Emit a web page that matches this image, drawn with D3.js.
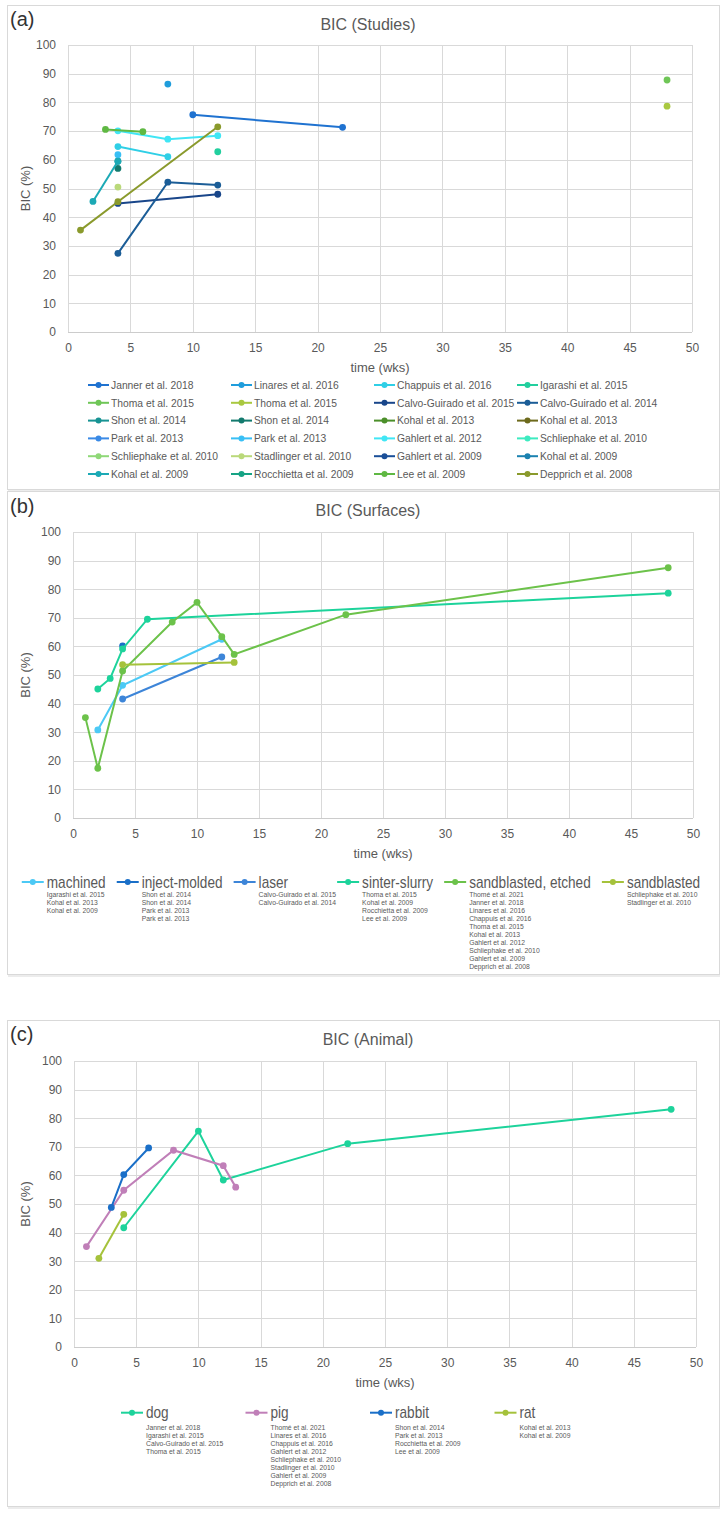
<!DOCTYPE html>
<html><head><meta charset="utf-8">
<script src="https://cdn.jsdelivr.net/npm/d3@7"></script>
<style>
body{margin:0;background:#fff;}
svg{display:block;font-family:"Liberation Sans",Arial,Helvetica,sans-serif;}
</style>
</head><body>
<svg id="chart" width="723" height="1514"></svg>
<script>
// ---------- shared axes ----------
const xTickValues = [0,5,10,15,20,25,30,35,40,45,50];
const yTickValues = [0,10,20,30,40,50,60,70,80,90,100];

// ---------- (a) studies ----------
const studyNames = ["Janner et al. 2018","Linares et al. 2016","Chappuis et al. 2016","Igarashi et al. 2015",
  "Thoma et al. 2015","Thoma et al. 2015","Calvo-Guirado et al. 2015","Calvo-Guirado et al. 2014",
  "Shon et al. 2014","Shon et al. 2014","Kohal et al. 2013","Kohal et al. 2013",
  "Park et al. 2013","Park et al. 2013","Gahlert et al. 2012","Schliephake et al. 2010",
  "Schliephake et al. 2010","Stadlinger et al. 2010","Gahlert et al. 2009","Kohal et al. 2009",
  "Kohal et al. 2009","Rocchietta et al. 2009","Lee et al. 2009","Depprich et al. 2008"];
const studyColors = ["#1f72d0","#1f9ddc","#2fcfe6","#22cf9e","#6fc657","#a9c840","#19468a","#1b5d97",
  "#179393","#137a6e","#4b8f2a","#6d6a1c","#3a8ae6","#38bff5","#40e6f5","#3debc0",
  "#8fd878","#bad97a","#1a4f98","#1b82b0","#1ba9b5","#16a384","#5fb843","#8a9a2c"];
const studyWeeks = [[10,22],[8],[4,8],[12],[48],[48],[4,12],[4,8,12],
  [4],[4],[],[],[],[4],[4,8,12],[],[],[4],[],[],[2,4],[],[3,6],[1,4,12]];
const studyBIC = [[75.7,71.3],[86.4],[64.6,61.1],[62.8],[87.8],[78.7],[44.8,48.0],[27.4,52.2,51.2],
  [59.5],[57.0],[],[],[],[61.8],[70.1,67.2,68.4],[],[],[50.5],[],[],[45.5,59.5],[],[70.6,69.8],[35.5,45.4,71.5]];

// ---------- (b) surfaces ----------
const surfaceNames = ["machined","inject-molded","laser","sinter-slurry","sandblasted, etched","sandblasted"];
const surfaceColors = ["#4cc9f5","#1a6fc8","#3d85d8","#1dd39b","#6cc24a","#a5c23b"];
const surfaceWeeks = [[2,4,12],[4],[4,12],[2,3,4,6,48],[1,2,4,8,10,12,13,22,48],[4,13]];
const surfaceBIC = [[30.8,46.4,62.5],[60.2],[41.6,56.3],[45.1,48.8,59.1,69.5,78.6],
  [35.1,17.4,51.4,68.5,75.4,63.4,57.2,71.1,87.5],[53.6,54.4]];
const surfaceStudies = [
  ["Igarashi et al. 2015","Kohal et al. 2013","Kohal et al. 2009"],
  ["Shon et al. 2014","Shon et al. 2014","Park et al. 2013","Park et al. 2013"],
  ["Calvo-Guirado et al. 2015","Calvo-Guirado et al. 2014"],
  ["Thoma et al. 2015","Kohal et al. 2009","Rocchietta et al. 2009","Lee et al. 2009"],
  ["Thomé et al. 2021","Janner et al. 2018","Linares et al. 2016","Chappuis et al. 2016","Thoma et al. 2015",
   "Kohal et al. 2013","Gahlert et al. 2012","Schliephake et al. 2010","Gahlert et al. 2009","Depprich et al. 2008"],
  ["Schliephake et al. 2010","Stadlinger et al. 2010"]];

// ---------- (c) animals ----------
const animalNames = ["dog","pig","rabbit","rat"];
const animalColors = ["#1dd39b","#c07fb8","#1a6fc8","#a5c23b"];
const animalWeeks = [[4,10,12,22,48],[1,4,8,12,13],[3,4,6],[2,4]];
const animalBIC = [[41.7,75.5,58.4,71.1,83.1],[35.1,54.8,68.8,63.4,55.9],[48.8,60.3,69.6],[31.0,46.4]];
const animalStudies = [
  ["Janner et al. 2018","Igarashi et al. 2015","Calvo-Guirado et al. 2015","Thoma et al. 2015"],
  ["Thomé et al. 2021","Linares et al. 2016","Chappuis et al. 2016","Gahlert et al. 2012",
   "Schliephake et al. 2010","Stadlinger et al. 2010","Gahlert et al. 2009","Depprich et al. 2008"],
  ["Shon et al. 2014","Park et al. 2013","Rocchietta et al. 2009","Lee et al. 2009"],
  ["Kohal et al. 2013","Kohal et al. 2009"]];

// ---------- drawing ----------
const svg = d3.select("#chart");
const TXT = "#595959", GRID = "#d9d9d9";
const COND = 0.85;

function toSeries(names, colors, weeks, vals){
  return names.map((n,i)=>({name:n,color:colors[i],pts:weeks[i].map((w,j)=>[w,vals[i][j]])}));
}

function drawPanel(p, series){
  const g = svg.append("g");
  g.append("rect").attr("x",p.fx+0.5).attr("y",p.fy+0.5).attr("width",p.fw).attr("height",p.fh)
    .attr("fill","#fff").attr("stroke","#d9d9d9");
  g.append("line").attr("x1",p.fx+1).attr("x2",p.fx+p.fw+1).attr("y1",p.fy+p.fh+2).attr("y2",p.fy+p.fh+2)
    .attr("stroke","#ececec").attr("stroke-width",2);
  g.append("text").attr("x",p.fx+3).attr("y",p.labY).attr("font-size",20).attr("fill","#333").text(p.label);
  g.append("text").attr("x",368).attr("y",p.titleY).attr("text-anchor","middle").attr("font-size",16)
    .attr("fill",TXT).text(p.title);

  const x = d3.scaleLinear().domain([0,50]).range([p.x0,p.x1]);
  const y = d3.scaleLinear().domain([0,100]).range([p.y0,p.y1]);

  g.append("g").selectAll("line").data(xTickValues).join("line")
    .attr("x1",d=>Math.round(x(d))+0.5).attr("x2",d=>Math.round(x(d))+0.5)
    .attr("y1",y(100)).attr("y2",y(0)).attr("stroke",GRID);
  g.append("g").selectAll("line").data(yTickValues).join("line")
    .attr("y1",d=>Math.round(y(d))+0.5).attr("y2",d=>Math.round(y(d))+0.5)
    .attr("x1",x(0)).attr("x2",x(50)).attr("stroke",d=>d===0?"#cccccc":GRID);

  const ax = g.append("g").attr("transform",`translate(0,${y(0)})`)
    .call(d3.axisBottom(x).tickValues(xTickValues).tickSize(0).tickPadding(11));
  const ay = g.append("g").attr("transform",`translate(${x(0)},0)`)
    .call(d3.axisLeft(y).tickValues(yTickValues).tickSize(0).tickPadding(12));
  [ax,ay].forEach(a=>{a.select(".domain").remove();
    a.selectAll("text").attr("font-size",12).attr("fill",TXT).attr("font-family",null);});

  g.append("text").attr("x",(p.x0+p.x1)/2).attr("y",p.y0+40).attr("text-anchor","middle")
    .attr("font-size",13).attr("fill",TXT).text("time (wks)");
  g.append("text").attr("transform",`translate(30,${(p.y0+p.y1)/2}) rotate(-90)`)
    .attr("text-anchor","middle").attr("font-size",13).attr("fill",TXT).text("BIC (%)");

  const line = d3.line().x(d=>x(d[0])).y(d=>y(d[1]));
  const sg = g.append("g").selectAll("g").data(series).join("g");
  sg.append("path").attr("d",d=>d.pts.length>1?line(d.pts):null).attr("fill","none")
    .attr("stroke",d=>d.color).attr("stroke-width",2);
  sg.selectAll("circle").data(d=>d.pts.map(q=>({q,c:d.color}))).join("circle")
    .attr("cx",d=>x(d.q[0])).attr("cy",d=>y(d.q[1])).attr("r",3.4).attr("fill",d=>d.c);
  return g;
}

function legendMarker(g, x1, x2, cy, color){
  g.append("line").attr("x1",x1).attr("x2",x2).attr("y1",cy).attr("y2",cy)
    .attr("stroke",color).attr("stroke-width",2);
  g.append("circle").attr("cx",(x1+x2)/2).attr("cy",cy).attr("r",3).attr("fill",color);
}

// panel (a)
const pa = {fx:7,fy:5,fw:712,fh:484,label:"(a)",labY:26,title:"BIC (Studies)",titleY:30,
  x0:68,x1:692,y0:332,y1:45};
const ga = drawPanel(pa, toSeries(studyNames,studyColors,studyWeeks,studyBIC));
studyNames.forEach((n,i)=>{
  const col=i%4,row=Math.floor(i/4);
  const tx=111+col*143, cy=385+row*17.8;
  legendMarker(ga, tx-23, tx-2, cy, studyColors[i]);
  ga.append("text").attr("x",tx).attr("y",cy+3.7).attr("font-size",10.3).attr("fill",TXT).text(n);
});

// condensed text helper
function condText(g, x, y, size, str, fill){
  return g.append("text").attr("transform",`translate(${x},${y}) scale(${COND},1)`)
    .attr("font-size",size).attr("fill",fill).text(str);
}

// panel (b)
const pb = {fx:7,fy:491,fw:712,fh:483,label:"(b)",labY:513,title:"BIC (Surfaces)",titleY:516,
  x0:73,x1:693,y0:818,y1:532};
const gb = drawPanel(pb, toSeries(surfaceNames,surfaceColors,surfaceWeeks,surfaceBIC));
(function(){
  const lg = gb.append("g");
  const measure = (s,size)=>{const t=lg.append("text").attr("font-size",size).text(s);
    const w=t.node().getComputedTextLength()*COND; t.remove(); return w;};
  // advance = max(label end + 11, sublabel end + 1)
  const adv = surfaceNames.map((n,i)=>{
    const lw = 25+measure(n,16)+11;
    const sw = 25+d3.max(surfaceStudies[i],s=>measure(s,8))+1;
    return Math.max(lw,sw);
  });
  const lastW = 25+measure(surfaceNames[surfaceNames.length-1],16);
  const total = d3.sum(adv.slice(0,-1))+lastW;
  let cx = 361-total/2;
  surfaceNames.forEach((n,i)=>{
    const tx=cx+25;
    legendMarker(lg, cx, cx+22, 882, surfaceColors[i]);
    condText(lg, tx, 887.7, 16, n, TXT);
    surfaceStudies[i].forEach((s,j)=>condText(lg, tx, 894+j*8+2.9, 8, s, TXT));
    cx += adv[i];
  });
})();

// panel (c)
const pc = {fx:7,fy:1020,fw:712,fh:486,label:"(c)",labY:1041,title:"BIC (Animal)",titleY:1045,
  x0:74,x1:696,y0:1347,y1:1061};
const gc = drawPanel(pc, toSeries(animalNames,animalColors,animalWeeks,animalBIC));
(function(){
  const lg = gc.append("g");
  const slot = 124.5, start = 121;
  animalNames.forEach((n,i)=>{
    const lx = start+i*slot, tx = lx+25;
    legendMarker(lg, lx, lx+22, 1412.7, animalColors[i]);
    condText(lg, tx, 1418.4, 16, n, TXT);
    animalStudies[i].forEach((s,j)=>condText(lg, tx, 1426.7+j*8.1+2.9, 8, s, TXT));
  });
})();
</script>
</body></html>
